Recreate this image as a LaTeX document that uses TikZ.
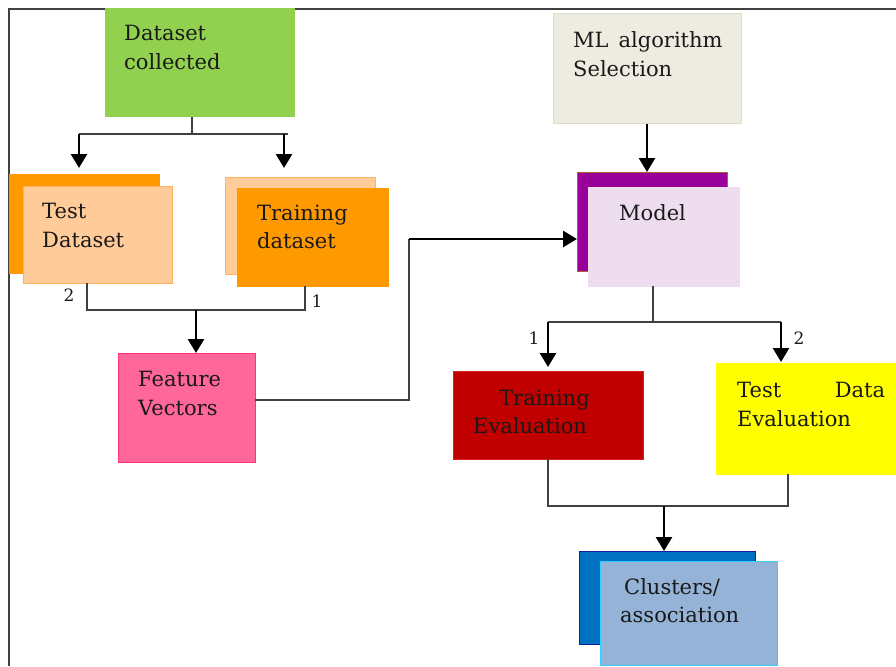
\documentclass[tikz,border=0pt]{standalone}
\usepackage{fontspec}
\setmainfont{DejaVu Serif}
\usetikzlibrary{arrows.meta}
\definecolor{cgreen}{HTML}{92D050}
\definecolor{corange}{HTML}{FF9900}
\definecolor{clight}{HTML}{FFCC99}
\definecolor{clightb}{HTML}{FFB060}
\definecolor{cpink}{HTML}{FF6699}
\definecolor{cpinkb}{HTML}{FF3377}
\definecolor{cml}{HTML}{EEECE1}
\definecolor{cmlb}{HTML}{E0DDCB}
\definecolor{cpurple}{HTML}{990099}
\definecolor{cpurpleb}{HTML}{B06030}
\definecolor{cmodel}{HTML}{EDDDEE}
\definecolor{cred}{HTML}{C00000}
\definecolor{credb}{HTML}{D82020}
\definecolor{cyellow}{HTML}{FFFF00}
\definecolor{cblue}{HTML}{0070C0}
\definecolor{cblueb}{HTML}{1020A0}
\definecolor{clblue}{HTML}{95B3D7}
\definecolor{clblueb}{HTML}{33CCFF}
\begin{document}
\begin{tikzpicture}[x=1pt,y=-1pt,
 box/.style={draw, line width=1pt, inner sep=0pt, outer sep=0pt, anchor=north west},
 txt/.style={anchor=base west, inner sep=0pt, text=black!90, font=\fontsize{21}{28}\selectfont},
 num/.style={inner sep=0pt, text=black!90, font=\fontsize{17}{19}\selectfont},
 conn/.style={draw=black!75, line width=1.5pt},
 arr/.style={draw=black, line width=2.6pt, -{Triangle[width=16pt,length=14pt]}},
]
\useasboundingbox (0,0) rectangle (896,666);
\draw[line width=1.2pt, black!75] (896,9) -- (9,9) -- (9,666);

% boxes
\node[box, fill=cgreen, draw=cgreen, minimum width=189, minimum height=108] (dc) at (105,9) {};
\node[box, fill=corange, draw=corange, minimum width=150, minimum height=99] (tb) at (9,174) {};
\node[box, fill=clight, draw=clightb, minimum width=149, minimum height=97] (tf) at (23,186) {};
\node[box, fill=clight, draw=clightb, minimum width=150, minimum height=97] (rb) at (225,177) {};
\node[box, fill=corange, draw=corange, minimum width=151, minimum height=98] (rf) at (237,188) {};
\node[box, fill=cpink, draw=cpinkb, minimum width=137, minimum height=109] (fv) at (118,353) {};
\node[box, fill=cml, draw=cmlb, minimum width=188, minimum height=110] (ml) at (553,14) {};
\node[box, fill=cpurple, draw=cpurpleb, minimum width=150, minimum height=99] (mb) at (577,172) {};
\node[box, fill=cmodel, draw=cmodel, minimum width=151, minimum height=99] (mf) at (588,187) {};
\node[box, fill=cred, draw=credb, minimum width=190, minimum height=88] (te) at (453,371) {};
\node[box, fill=cyellow, draw=cyellow, minimum width=185, minimum height=111] (de) at (716,363) {};
\node[box, fill=cblue, draw=cblueb, minimum width=176, minimum height=93] (cb) at (579,551) {};
\node[box, fill=clblue, draw=clblueb, minimum width=177, minimum height=104] (cf) at (600,561) {};

% texts
\node[txt] (t1) at (124,41) {Dataset};
\node[txt] (t2) at (124,70) {collected};
\node[txt] (t3) at (42,218) {Test};
\node[txt] (t4) at (42,247) {Dataset};
\node[txt] (t5) at (257,220) {Training};
\node[txt] (t6) at (257,248) {dataset};
\node[txt] (t7) at (138,386) {Feature};
\node[txt] (t8) at (138,415) {Vectors};
\node[txt] (t9) at (573,48) {ML\hspace{10pt}algorithm};
\node[txt] (t10) at (573,77) {Selection};
\node[txt] (t11) at (619,220) {Model};
\node[txt] (t12) at (499,405) {Training};
\node[txt] (t13) at (473,433) {Evaluation};
\node[txt] (t14) at (737,397) {\makebox[148pt][s]{Test\hfill Data}};
\node[txt] (t15) at (737,426) {Evaluation};
\node[txt] (t16) at (624,594) {Clusters/};
\node[txt] (t17) at (620,622) {association};

\node[num] (n2a) at (69,295) {2};
\node[num] (n1a) at (317,301) {1};
\node[num] (n1b) at (534,338) {1};
\node[num] (n2b) at (799,338) {2};

% split from dataset
\coordinate (a1) at (192,134);
\coordinate (al) at (79,134);
\coordinate (ar) at (284,134);
\coordinate (ae) at (288,134);
\draw[conn] (dc.south -| a1) -- (a1);
\draw[conn] (al) -- (ae);
\draw[arr, shorten >=6pt] (al) -- (al |- tb.north);
\draw[arr, shorten >=9pt] (ar) -- (ar |- rb.north);

% merge to feature vectors
\coordinate (b1) at (87,310);
\coordinate (b2) at (305,310);
\coordinate (b3) at (196,310);
\draw[conn] (tf.south -| b1) -- (b1) -- (b2) -- (b2 |- rf.south);
\draw[arr] (b3) -- (b3 |- fv.north);

% feature vectors to model
\coordinate (c1) at (409,400);
\coordinate (c2) at (409,239);
\draw[conn] (fv.east |- c1) -- (c1) -- (c2);
\draw[arr] (c2) -- (c2 -| mb.west);

% ML to model
\draw[arr] (ml.south) -- (ml.south |- mb.north);

% model split
\coordinate (d1) at (653,322);
\coordinate (dl) at (548,322);
\coordinate (dr) at (781,322);
\draw[conn] (mf.south -| d1) -- (d1);
\draw[conn] (dl) -- (dr);
\draw[arr, shorten >=4pt] (dl) -- (dl |- te.north);
\draw[arr, shorten >=1pt] (dr) -- (dr |- de.north);

% merge to clusters
\coordinate (e1) at (548,506);
\coordinate (e2) at (788,506);
\coordinate (e3) at (664,506);
\draw[conn] (te.south -| e1) -- (e1) -- (e2) -- (e2 |- de.south);
\draw[arr] (e3) -- (e3 |- cb.north);
\end{tikzpicture}
\end{document}
